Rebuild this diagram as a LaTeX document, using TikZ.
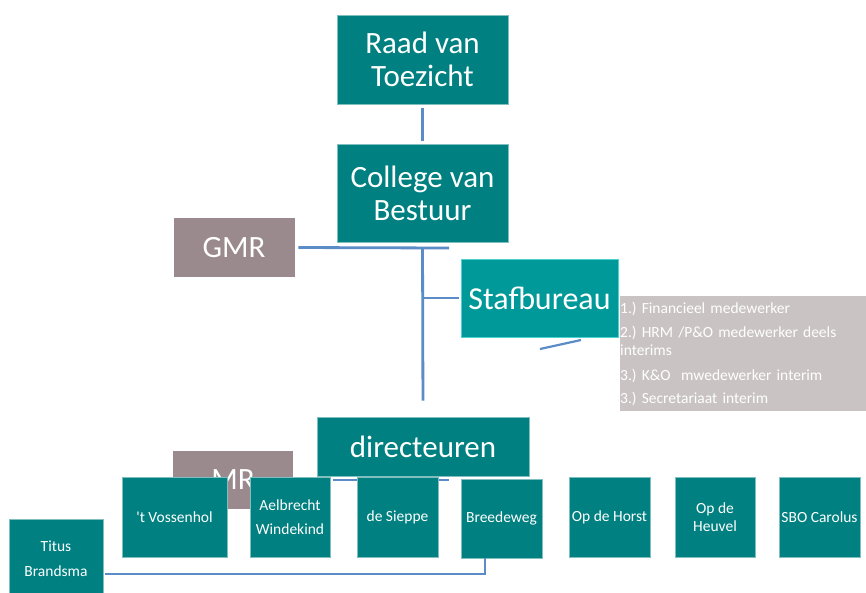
\documentclass[tikz,border=0pt]{standalone}
\usepackage{fontspec}
\setmainfont{Carlito}
\usetikzlibrary{positioning}
\frenchspacing
\definecolor{tealbox}{HTML}{008080}
\definecolor{tealborder}{HTML}{7FBFBF}
\definecolor{stafbox}{HTML}{009999}
\definecolor{stafborder}{HTML}{4DD2D2}
\definecolor{mauve}{HTML}{9A8A8D}
\definecolor{lightgrey}{HTML}{C9C3C4}
\definecolor{linkblue}{HTML}{5B8CC8}
\tikzset{
  bigbox/.style={fill=tealbox, draw=tealborder, line width=0.6pt, text=white, align=center, inner sep=0pt,
    font=\fontsize{31}{33}\selectfont},
  smallbox/.style={fill=tealbox, draw=tealborder, line width=0.6pt, text=white, align=center, inner sep=0pt,
    minimum height=80pt, font=\fontsize{15.5}{24}\selectfont},
  greybox/.style={fill=mauve, draw=white, line width=0.6pt, text=white, inner sep=0pt, font=\fontsize{31}{33}\selectfont},
  conn/.style={draw=linkblue, line width=2.8pt},
}
\begin{document}
\begin{tikzpicture}[x=1pt,y=-1pt]
\useasboundingbox (0,0) rectangle (866,592);
% top boxes
\node[bigbox, minimum width=171pt, minimum height=89pt] (raad) at (422.5,59.5) {Raad van\\Toezicht};
\node[bigbox, minimum width=171pt, minimum height=98pt] (college) at (422.5,193) {College van\\Bestuur};
\node[greybox, minimum width=122pt, minimum height=60pt] (gmr) at (234,247.5) {GMR};
\node[fill=stafbox, draw=stafborder, line width=0.6pt, text=white, inner sep=0pt, minimum width=157pt, minimum height=78pt,
  font=\fontsize{32}{34}\selectfont] (staf) at (539.5,298) {Stafbureau};
\node[fill=lightgrey, text=white, anchor=north west, text width=246pt, inner xsep=0pt, inner ysep=0pt, minimum height=115pt,
  align=left, font=\fontsize{15.5}{18}\selectfont] (taken) at (620,296)
  {1.) Financieel medewerker\\[6pt]2.) HRM /P\&O medewerker deels\\interims\\[7pt]3.) K\&O\ \ mwedewerker interim\\[5pt]3.) Secretariaat interim};
\node[bigbox, minimum width=212pt, minimum height=59pt] (dir) at (423,446.5) {directeuren};
\node[greybox, minimum width=121pt, minimum height=59pt] (mr) at (233,479.5) {MR};
% connectors
\coordinate (gmrEnd) at (449,248);
\coordinate (diagA) at (540,349);
\coordinate (diagB) at (581,340);
\coordinate (dirLineA) at (333,480);
\coordinate (dirLineB) at (449,480);
\coordinate (titusCorner) at (485,574);
\draw[conn, shorten <=4pt, shorten >=3pt] (raad.south) -- (college.north);
\draw[conn, shorten <=3pt] (gmr.east) -- (gmrEnd);
\draw[conn, shorten <=5pt, shorten >=16pt] (college.south) -- (dir.north);
\draw[conn, shorten >=2pt] (staf.west -| college.south) -- (staf.west);
\draw[conn, line width=2.2pt] (diagA) -- (diagB);
\draw[conn, line width=2pt] (dirLineA) -- (dirLineB);
% schools
\node[smallbox, minimum width=105pt] (voss) at (174.5,517) {\textquotesingle t Vossenhol};
\node[smallbox, minimum width=80pt] (aelb) at (290,517) {Aelbrecht\\Windekind};
\node[smallbox, minimum width=81pt] (siep) at (397.5,517) {de Sieppe};
\node[smallbox, minimum width=81pt, minimum height=79pt] (bree) at (501.5,518.5) {Breedeweg};
\node[smallbox, minimum width=81pt, font=\fontsize{15.5}{18}\selectfont] (horst) at (609.5,517) {Op de Horst};
\node[smallbox, minimum width=80pt, font=\fontsize{15.5}{18}\selectfont] (heuvel) at (715,517) {Op de\\Heuvel};
\node[smallbox, minimum width=81pt, font=\fontsize{15.5}{18}\selectfont] (sbo) at (819.5,517) {SBO Carolus};
\node[smallbox, minimum width=94pt, minimum height=79pt, font=\fontsize{15.5}{25}\selectfont] (titus) at (56,558.5) {Titus\\Brandsma};
\draw[conn, shorten <=2pt] (titus.east |- titusCorner) -- (titusCorner) -- (titusCorner |- bree.south);
\end{tikzpicture}
\end{document}
